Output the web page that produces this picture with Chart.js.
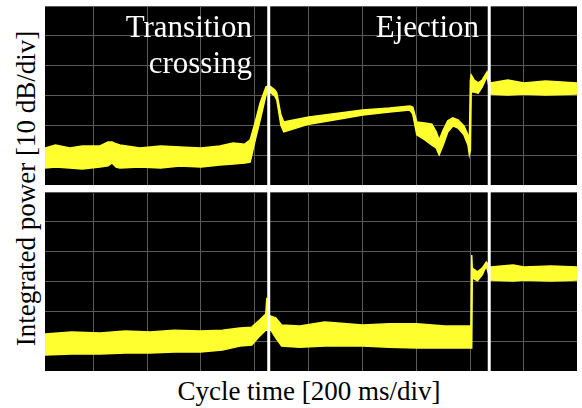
<!DOCTYPE html>
<html>
<head>
<meta charset="utf-8">
<script src="https://cdn.jsdelivr.net/npm/chart.js@4.4.1/dist/chart.umd.min.js"></script>
<style>
  html, body { margin:0; padding:0; background:#fff; }
  #wrap { position:relative; width:582px; height:408px; overflow:hidden; }
  #wrap div { font-family:"Liberation Serif", "DejaVu Serif", serif; }
  canvas { position:absolute; }
  #cTop { left:45px; top:6px; }
  #cBot { left:45px; top:192px; }
  .lbl { position:absolute; color:#fff; font-size:31px; line-height:36px; text-align:right; white-space:nowrap; }
  #yTitle { position:absolute; left:-174px; top:174.5px; width:400px; height:27px; line-height:27px;
            text-align:center; font-size:27px; white-space:nowrap; color:#000;
            transform:rotate(-90deg); transform-origin:50% 50%; }
  #xTitle { position:absolute; left:0; width:618px; top:376px; text-align:center; font-size:27px; color:#000; white-space:nowrap; }
</style>
</head>
<body>
<div id="wrap">
  <canvas id="cTop" width="532" height="179"></canvas>
  <canvas id="cBot" width="532" height="179"></canvas>
  <div class="lbl" style="right:330px; top:9px;">Transition<br>crossing</div>
  <div class="lbl" style="right:103px; top:9px;">Ejection</div>
  <div id="xTitle">Cycle time [200 ms/div]</div>
  <div id="yTitle">Integrated power [10 dB/div]</div>
</div>
<script>
// x in ms, y in dB (10 dB/div)
const xTicks = [200,400,600,800,1000,1200,1400,1600,1800];
const yTicks = [0,10,20,30,40,50,60];
const markers = [852, 1671]; // transition crossing, ejection

// top panel: upper / lower edge of the noisy trace
const topX  = [21,60,113,160,225,255,270,285,299,374,450,522,600,670,720,763,783, 802,820,842,850,858,875,882,897,908,930,
               1001,1116,1201,1301,1376,1387,1402,1432,1458,1474, 1485,1500,1517,1536,1555,1577,1592,1597,1601,1604,
               1615,1630,1645,1663,1675,1740,1800,1880,1997];
const topHi = [12.4,13.4,12.4,13.1,13.1,14.4,14.4,13.8,13.4,12.4,13.1,12.7,12.4,13.1,14.1,13.7,15.1, 21.1,27.5,32.9,33.2,33.0,31.8,30.8,23.5,21.1,21.5,
               22.8,24.1,25.1,25.8,26.5,26.1,21.1,20.8,20.4,17.8, 15.1,18.4,21.5,22.5,21.8,19.8,16.8,13.4,35.2,36.9,
               35.2,34.2,35.2,37.9,34.2,35.2,34.2,34.9,34.2];
const topLo = [5.7,6.0,5.7,5.4,6.0,6.4,7.4,6.0,5.7,6.0,5.7,6.4,6.0,6.7,7.0,7.4,7.7, 15.1,21.8,30.2,31.5,31.0,29.8,28.5,20.1,17.8,18.4,
               20.4,22.1,23.5,24.5,25.1,23.8,16.8,15.1,13.4,12.4, 10.1,13.4,17.8,19.8,19.1,16.8,13.4,10.1,11.7,31.2,
               31.2,30.8,32.9,36.5,30.5,30.2,30.5,30.2,30.5];

// bottom panel
const botX  = [21,120,225,320,411,500,597,680,745,789,818,841,845,849, 860,878,900,967,1060,1201,1300,1402,1506,1598,1603,1606,
               1608,1627,1645,1660,1675,1760,1800,1900,1997];
const botHi = [12.4,13.1,12.7,13.4,13.1,13.7,13.4,13.7,14.4,14.7,17.1,19.1,24.5,19.0, 18.4,17.8,15.4,15.1,16.4,15.4,15.8,15.8,15.1,15.1,15.1,38.9,
               34.5,33.2,34.5,36.5,34.9,35.5,34.9,35.2,34.9];
const botLo = [5.4,5.7,5.7,6.0,6.0,6.4,6.4,7.0,8.4,8.7,11.7,13.7,13.7,13.7, 13.7,11.1,8.4,8.0,8.4,8.4,8.0,7.7,7.7,7.7,7.7,7.7,
               31.2,30.2,32.2,35.2,30.5,30.2,30.5,30.2,30.5];

const YEL = '#ffff30';

const blackBg = {
  id:'blackBg',
  beforeDraw(chart){
    const a = chart.chartArea, c = chart.ctx;
    c.save(); c.fillStyle = '#000'; c.fillRect(a.left, a.top, a.right-a.left, a.bottom-a.top); c.restore();
  }
};

function makePanel(id, xs, hi, lo){
  const pts = arr => xs.map((x,i)=>({x:x, y:arr[i]}));
  const lines = markers.map(m=>({
    data:[{x:m,y:0},{x:m,y:60}], borderColor:'#fff', borderWidth:3, pointRadius:0, fill:false, order:-1
  }));
  return new Chart(document.getElementById(id).getContext('2d'), {
    type:'line',
    data:{ datasets:[
      {data:pts(hi), borderColor:YEL, borderWidth:1.5, pointRadius:0, fill:false, tension:0},
      {data:pts(lo), borderColor:YEL, borderWidth:1.5, pointRadius:0, backgroundColor:YEL, fill:'-1', tension:0},
      ...lines
    ]},
    options:{
      responsive:false, animation:false, events:[],
      layout:{padding:0, autoPadding:false},
      plugins:{legend:{display:false}, tooltip:{enabled:false}},
      scales:{
        x:{type:'linear', min:21, max:1997, ticks:{display:false}, border:{display:false},
           grid:{color:'#5a5a5a', lineWidth:1, drawTicks:false},
           afterBuildTicks: s => { s.ticks = xTicks.map(v=>({value:v})); }},
        y:{type:'linear', min:0, max:60, ticks:{display:false}, border:{display:false},
           grid:{color:'#5a5a5a', lineWidth:1, drawTicks:false},
           afterBuildTicks: s => { s.ticks = yTicks.map(v=>({value:v})); }}
      }
    },
    plugins:[blackBg]
  });
}

makePanel('cTop', topX, topHi, topLo);
makePanel('cBot', botX, botHi, botLo);
</script>
</body>
</html>
